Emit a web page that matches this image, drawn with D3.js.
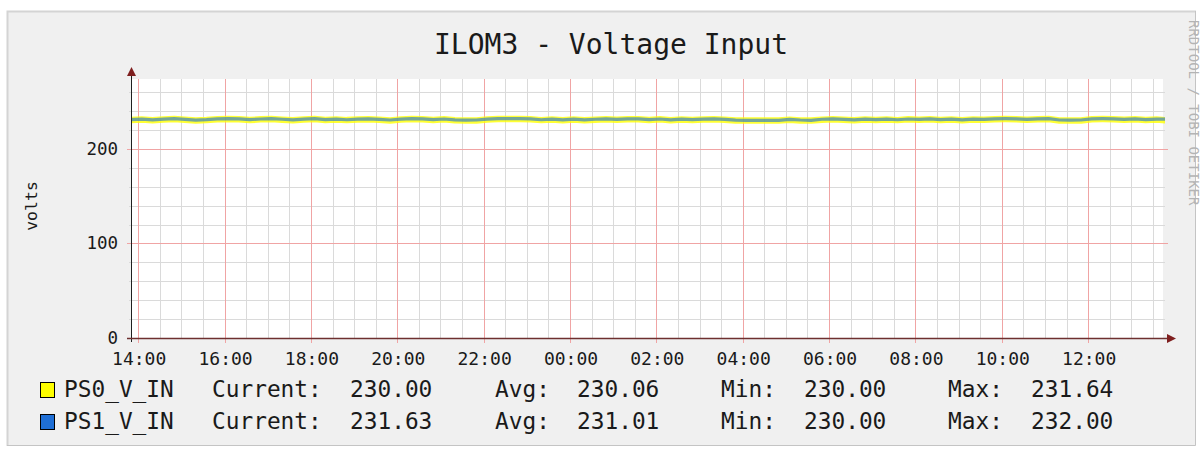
<!DOCTYPE html>
<html>
<head>
<meta charset="utf-8">
<script src="https://cdn.jsdelivr.net/npm/d3@7"></script>
<style>
  body { margin: 0; background: #fff; }
  svg { display: block; }
  text { font-family: "DejaVu Sans Mono", monospace; fill: #1a1a1a; }
</style>
</head>
<body>
<div id="chart"></div>
<script>
// series: 15 minute samples starting 13:50
const startTime = new Date(2024, 0, 1, 13, 50);
const endTime = new Date(2024, 0, 2, 13, 44);
const stepMinutes = 15;

const ps0Values = [
  230.6, 231.1, 230.4, 231.2, 231.6, 230.8, 230.2, 230.6, 231.4, 231.6,
  231.5, 230.6, 231.3, 231.6, 231.0, 230.4, 231.1, 231.6, 230.6, 231.2,
  230.5, 231.1, 231.4, 230.8, 230.2, 231.2, 231.6, 231.5, 230.6, 231.3,
  230.4, 230.1, 230.2, 231.1, 231.6, 231.6, 231.64, 231.4, 230.5, 231.2,
  230.4, 231.1, 230.3, 231.0, 231.5, 230.8, 231.4, 231.5, 230.6, 231.3,
  230.4, 231.1, 230.6, 231.2, 231.5, 230.8, 230.0, 230.0, 230.0, 230.0,
  230.0, 230.9, 230.2, 230.0, 231.0, 231.5, 230.8, 230.3, 231.1, 230.6,
  231.2, 230.5, 231.3, 230.8, 231.4, 230.6, 231.2, 230.4, 231.1, 230.8,
  231.5, 231.6, 231.5, 230.8, 231.5, 231.6, 230.2, 230.1, 230.2, 231.5,
  231.6, 231.5, 230.9, 231.4, 230.7, 231.2, 230.0
];
const ps1Values = [
  231.0, 231.5, 230.8, 231.6, 232.0, 231.2, 230.5, 231.0, 231.8, 232.0,
  231.9, 231.0, 231.7, 232.0, 231.4, 230.8, 231.5, 232.0, 231.0, 231.6,
  230.9, 231.5, 231.8, 231.2, 230.6, 231.6, 232.0, 231.9, 231.0, 231.7,
  230.8, 230.5, 230.6, 231.5, 232.0, 232.0, 232.0, 231.8, 230.9, 231.6,
  230.8, 231.5, 230.7, 231.4, 231.9, 231.2, 231.8, 231.9, 231.0, 231.7,
  230.8, 231.5, 231.0, 231.6, 231.9, 231.2, 230.4, 230.2, 230.2, 230.3,
  230.2, 231.3, 230.6, 230.3, 231.4, 231.9, 231.2, 230.7, 231.5, 231.0,
  231.6, 230.9, 231.7, 231.2, 231.8, 231.0, 231.6, 230.8, 231.5, 231.2,
  231.9, 232.0, 231.9, 231.2, 231.9, 232.0, 230.6, 230.5, 230.6, 231.9,
  232.0, 231.9, 231.3, 231.8, 231.1, 231.6, 231.63
];

const seriesNames = ["PS0_V_IN", "PS1_V_IN"];
const seriesColors = ["#ffff00", "#1f6fd6"];
const statLabels = ["Current:", "Avg:", "Min:", "Max:"];
const ps0Stats = ["230.00", "230.06", "230.00", "231.64"];
const ps1Stats = ["231.63", "231.01", "230.00", "232.00"];

const yMax = 274;
const yMajorTicks = [0, 100, 200];
const yMinorStep = 20;

const width = 1203, height = 450;
const plot = { left: 131, right: 1163, top: 79, bottom: 338 };

const svg = d3.select("#chart").append("svg")
  .attr("width", width)
  .attr("height", height);

// frame / background
svg.append("rect").attr("x", 7).attr("y", 11).attr("width", 1189).attr("height", 435)
  .attr("fill", "#f0f0f0");
svg.append("path").attr("d", "M7.5,446 V11.5 H1196").attr("fill", "none").attr("stroke", "#d4d4d4").attr("stroke-width", 2);
svg.append("path").attr("d", "M7,445.5 H1195.5 V11").attr("fill", "none").attr("stroke", "#c4c4c4").attr("stroke-width", 1);

const x = d3.scaleTime().domain([startTime, endTime]).range([plot.left, plot.right]);
const y = d3.scaleLinear().domain([0, yMax]).range([plot.bottom, plot.top]);

const times = ps0Values.map((_, i) => d3.timeMinute.offset(startTime, i * stepMinutes));

// canvas
svg.append("rect")
  .attr("x", plot.left).attr("y", plot.top)
  .attr("width", plot.right - plot.left).attr("height", plot.bottom - plot.top)
  .attr("fill", "#fff");

const grid = svg.append("g");
const minorColor = "#dadada", majorColor = "#f0a4a4";

// minor grid
const minorX = d3.timeMinute.every(30).range(startTime, endTime);
grid.selectAll(".vminor").data(minorX.filter(d => d.getMinutes() !== 0 || d.getHours() % 2 !== 0))
  .join("line")
  .attr("x1", d => Math.round(x(d)) + 0.5).attr("x2", d => Math.round(x(d)) + 0.5)
  .attr("y1", plot.top).attr("y2", plot.bottom)
  .attr("stroke", minorColor).attr("stroke-width", 1);

const minorY = d3.range(yMinorStep, yMax, yMinorStep).filter(v => v % 100 !== 0);
grid.selectAll(".hminor").data(minorY)
  .join("line")
  .attr("x1", plot.left - 2).attr("x2", plot.right + 2)
  .attr("y1", d => Math.round(y(d)) + 0.5).attr("y2", d => Math.round(y(d)) + 0.5)
  .attr("stroke", minorColor).attr("stroke-width", 1);

// major grid
const majorX = d3.timeHour.every(2).range(startTime, endTime);
grid.selectAll(".vmajor").data(majorX)
  .join("line")
  .attr("x1", d => Math.round(x(d)) + 0.5).attr("x2", d => Math.round(x(d)) + 0.5)
  .attr("y1", plot.top).attr("y2", plot.bottom + 5)
  .attr("stroke", majorColor).attr("stroke-width", 1);

grid.selectAll(".hmajor").data(yMajorTicks.filter(v => v > 0))
  .join("line")
  .attr("x1", plot.left - 4).attr("x2", plot.right + 5)
  .attr("y1", d => Math.round(y(d)) + 0.5).attr("y2", d => Math.round(y(d)) + 0.5)
  .attr("stroke", majorColor).attr("stroke-width", 1);

// series lines
const line = d3.line()
  .x((d, i) => x(times[i]))
  .y(d => y(d));

svg.append("clipPath").attr("id", "clip")
  .append("rect").attr("x", plot.left).attr("y", plot.top - 10)
  .attr("width", plot.right - plot.left + 2).attr("height", plot.bottom - plot.top + 10);

const lines = svg.append("g").attr("clip-path", "url(#clip)");
lines.append("path").datum(ps0Values)
  .attr("d", line).attr("fill", "none")
  .attr("stroke", seriesColors[0]).attr("stroke-width", 6.5)
  .attr("stroke-linejoin", "round").attr("opacity", 0.8);
lines.append("path").datum(ps1Values)
  .attr("d", line).attr("fill", "none")
  .attr("stroke", seriesColors[1]).attr("stroke-width", 3.2)
  .attr("stroke-linejoin", "round").attr("opacity", 0.62);

// axes
const axisColor = "#1f1f1f", arrowColor = "#7f1f1f";
svg.append("line").attr("x1", plot.left + 0.5).attr("x2", plot.left + 0.5)
  .attr("y1", plot.bottom + 4).attr("y2", plot.top - 6)
  .attr("stroke", axisColor).attr("stroke-width", 1);
svg.append("line").attr("x1", plot.left - 4).attr("x2", plot.right + 6)
  .attr("y1", plot.bottom + 0.5).attr("y2", plot.bottom + 0.5)
  .attr("stroke", "#6e3030").attr("stroke-width", 1.5);
svg.append("path")
  .attr("d", `M${plot.left - 4},${plot.top - 3} L${plot.left + 0.5},${plot.top - 12} L${plot.left + 5},${plot.top - 3} Z`)
  .attr("fill", arrowColor);
svg.append("path")
  .attr("d", `M${plot.right + 4},${plot.bottom - 4} L${plot.right + 13},${plot.bottom + 0.5} L${plot.right + 4},${plot.bottom + 5} Z`)
  .attr("fill", arrowColor);

// y tick labels
svg.selectAll(".ylab").data(yMajorTicks)
  .join("text")
  .attr("x", 118).attr("y", d => y(d) + 6)
  .attr("text-anchor", "end")
  .attr("font-size", 17.5)
  .text(d => d);

// x tick labels
const fmt = d3.timeFormat("%H:%M");
svg.selectAll(".xlab").data(majorX)
  .join("text")
  .attr("x", d => x(d) + 1).attr("y", 365)
  .attr("text-anchor", "middle")
  .attr("font-size", 18)
  .text(d => fmt(d));

// title
svg.append("text")
  .attr("x", 611).attr("y", 54)
  .attr("text-anchor", "middle")
  .attr("font-size", 28)
  .text("ILOM3 - Voltage Input");

// y label
svg.append("text")
  .attr("transform", "translate(37,206) rotate(-90)")
  .attr("text-anchor", "middle")
  .attr("font-size", 16.5)
  .text("volts");

// watermark
svg.append("text")
  .attr("transform", "translate(1189,20) rotate(90)")
  .attr("font-size", 14)
  .style("fill", "#b4b4b4")
  .text("RRDTOOL / TOBI OETIKER");

// legend
const statX = [212, 495, 721, 948];
const valX = [350, 577, 804, 1031];
const rows = [
  { name: seriesNames[0], color: seriesColors[0], stats: ps0Stats, y: 397 },
  { name: seriesNames[1], color: seriesColors[1], stats: ps1Stats, y: 429 }
];
rows.forEach(r => {
  svg.append("rect").attr("x", 40.5).attr("y", r.y - 14.5).attr("width", 14).attr("height", 15)
    .attr("fill", r.color).attr("stroke", "#000").attr("stroke-width", 1);
  svg.append("text").attr("x", 64).attr("y", r.y).attr("font-size", 22.8).text(r.name);
  statLabels.forEach((s, i) => {
    svg.append("text").attr("x", statX[i]).attr("y", r.y).attr("font-size", 22.8).text(s);
    svg.append("text").attr("x", valX[i]).attr("y", r.y).attr("font-size", 22.8).text(r.stats[i]);
  });
});
</script>
</body>
</html>
